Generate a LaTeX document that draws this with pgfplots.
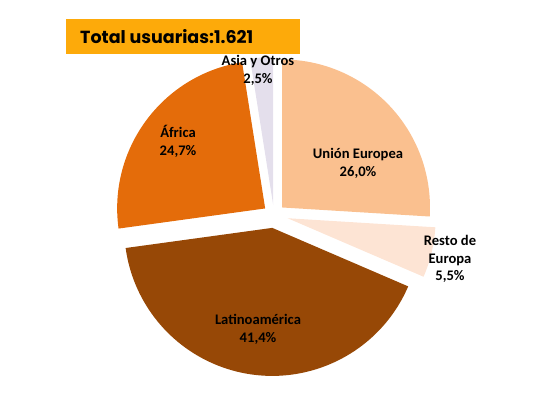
\documentclass[border=0pt]{standalone}
\usepackage{fontspec}
\setmainfont{Carlito}
\newfontfamily\titlefont{Poppins}
\usepackage{pgfplots}
\pgfplotsset{compat=1.18}
\definecolor{cUE}{RGB}{250,192,143}
\definecolor{cRE}{RGB}{253,228,212}
\definecolor{cLA}{RGB}{151,72,6}
\definecolor{cAF}{RGB}{228,108,10}
\definecolor{cAS}{RGB}{228,223,236}
\definecolor{titleor}{RGB}{253,170,10}
\gdef\piecum{0}
% \pieslice{value}{explode}{colour}
\newcommand\pieslice[3]{%
  \pgfmathsetmacro\piesa{90-\piecum*3.5964}%
  \pgfmathsetmacro\pieea{90-(\piecum+#1)*3.5964}%
  \pgfmathsetmacro\piema{(\piesa+\pieea)/2}%
  \fill[fill=#3] (axis cs:274,195) ++(\piema:#2pt) -- ++(\piesa:148pt) arc[start angle=\piesa, end angle=\pieea, radius=148pt] -- cycle;%
  \pgfmathsetmacro\pienew{\piecum+#1}%
  \xdef\piecum{\pienew}%
}
\begin{document}
\begin{tikzpicture}
\begin{axis}[x=1pt,y=1pt,xmin=0,xmax=535,ymin=0,ymax=410,hide axis,scale only axis,clip=false]
\pgfplotsextra{%
  \path (axis cs:0,0) rectangle (axis cs:535,410);
  \pieslice{26.0}{11}{cUE}
  \pieslice{5.5}{14}{cRE}
  \pieslice{41.4}{13}{cLA}
  \pieslice{24.7}{11}{cAF}
  \pieslice{2.5}{10}{cAS}
}
\node[fill=titleor, minimum width=234pt, minimum height=35pt, inner sep=0pt] at (axis cs:182.5,373.5) {};
\node[anchor=west, inner sep=0pt] at (axis cs:80,373.5) {\titlefont\bfseries\fontsize{17.5}{21}\selectfont Total usuarias:1.621};
\node[align=center, font=\bfseries\fontsize{14.6}{17.8}\selectfont, inner sep=0pt] at (axis cs:358,247) {Unión Europea\\26,0\%};
\node[align=center, font=\bfseries\fontsize{14.6}{17.8}\selectfont, inner sep=0pt] at (axis cs:450,151) {Resto de\\Europa\\5,5\%};
\node[align=center, font=\bfseries\fontsize{14.6}{17.8}\selectfont, inner sep=0pt] at (axis cs:258,81) {Latinoamérica\\41,4\%};
\node[align=center, font=\bfseries\fontsize{14.6}{17.8}\selectfont, inner sep=0pt] at (axis cs:178,269) {África\\24,7\%};
\node[align=center, font=\bfseries\fontsize{14.6}{17.8}\selectfont, inner sep=0pt] at (axis cs:258,340) {Asia y Otros\\2,5\%};
\end{axis}
\end{tikzpicture}
\end{document}
